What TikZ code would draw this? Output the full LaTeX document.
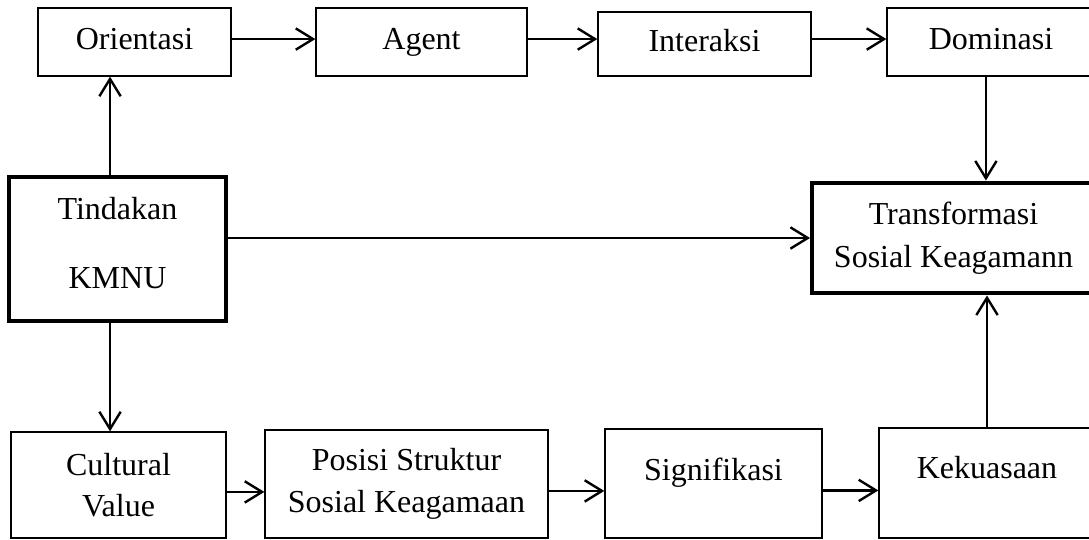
\documentclass[tikz,border=0pt]{standalone}
\usepackage{fontspec}
\setmainfont{Liberation Serif}
\usetikzlibrary{arrows.meta}

\begin{document}
\begin{tikzpicture}
  [x=0.375pt, y=-0.375pt,
   every node/.style={draw, rectangle, inner sep=0pt, line width=0.5pt,
     font=\fontsize{12}{15.5}\selectfont, align=center},
   oneline/.style={text height=8.5pt, text depth=3pt},
   thickbox/.style={line width=1.5pt},
   arr/.style={line width=0.9pt, -{Straight Barb[length=6.5pt,width=8pt]}}]
  \useasboundingbox (0,0) rectangle (1089,540);

  % top row
  \node (orient) [oneline, minimum width=72.4pt, minimum height=25.5pt] at (134.5,42) {Orientasi};
  \node (agent) [oneline, minimum width=79.1pt, minimum height=25.5pt] at (421.5,42) {Agent};
  \node (inter) [oneline, minimum width=79.9pt, minimum height=24pt] at (704.5,44) {Interaksi};
  \node (domin) [oneline, minimum width=78pt, minimum height=25.5pt] at (991,42) {Dominasi};

  % middle row
  \node (tindak) [thickbox, minimum width=81.4pt, minimum height=54pt] at (117.5,249) {Tindakan\\[10.4pt]KMNU\strut};
  \node (trans) [thickbox, minimum width=106.1pt, minimum height=41.6pt] at (953.5,238) {Transformasi\\[0.6pt]Sosial Keagamann};

  % bottom row
  \node (cult) [minimum width=80.6pt, minimum height=39.75pt] at (118.5,485) {Cultural\\Value};
  \node (posisi) [minimum width=106.1pt, minimum height=40.5pt] at (406.5,484) {Posisi Struktur\\Sosial Keagamaan};
  \node (sig) [text height=8.5pt, text depth=11pt, minimum width=81.4pt, minimum height=40.9pt] at (713.5,483.5) {Signifikasi};
  \node (kek) [text height=8.5pt, text depth=12.2pt, minimum width=81pt, minimum height=41.25pt] at (987,483) {Kekuasaan};

  \draw[arr] ([yshift=1.1pt]orient.east) -- ([yshift=1.1pt]orient.east -| agent.west);
  \draw[arr] ([yshift=1.1pt]agent.east) -- ([yshift=1.1pt]agent.east -| inter.west);
  \draw[arr] ([yshift=1.1pt]domin.west -| inter.east) -- ([yshift=1.1pt]domin.west);

  \draw[arr] ([xshift=-2.8pt]tindak.north) -- ([xshift=-2.8pt]tindak.north |- orient.south);
  \draw[arr] ([xshift=-2.8pt]tindak.south) -- ([xshift=-2.8pt]tindak.south |- cult.north);
  \draw[arr] (tindak.east |- trans.west) -- (trans.west);
  \draw[arr] ([xshift=-1.9pt]domin.south) -- ([xshift=-1.9pt]domin.south |- trans.north);
  \draw[arr] (kek.north) -- (kek.north |- trans.south);

  \draw[arr] ([yshift=-2.6pt]cult.east) -- ([yshift=-2.6pt]cult.east -| posisi.west);
  \draw[arr] ([yshift=-2.6pt]posisi.east) -- ([yshift=-2.6pt]posisi.east -| sig.west);
  \draw[arr] ([yshift=-2.6pt]sig.east) -- ([yshift=-2.6pt]sig.east -| kek.west);
\end{tikzpicture}
\end{document}
